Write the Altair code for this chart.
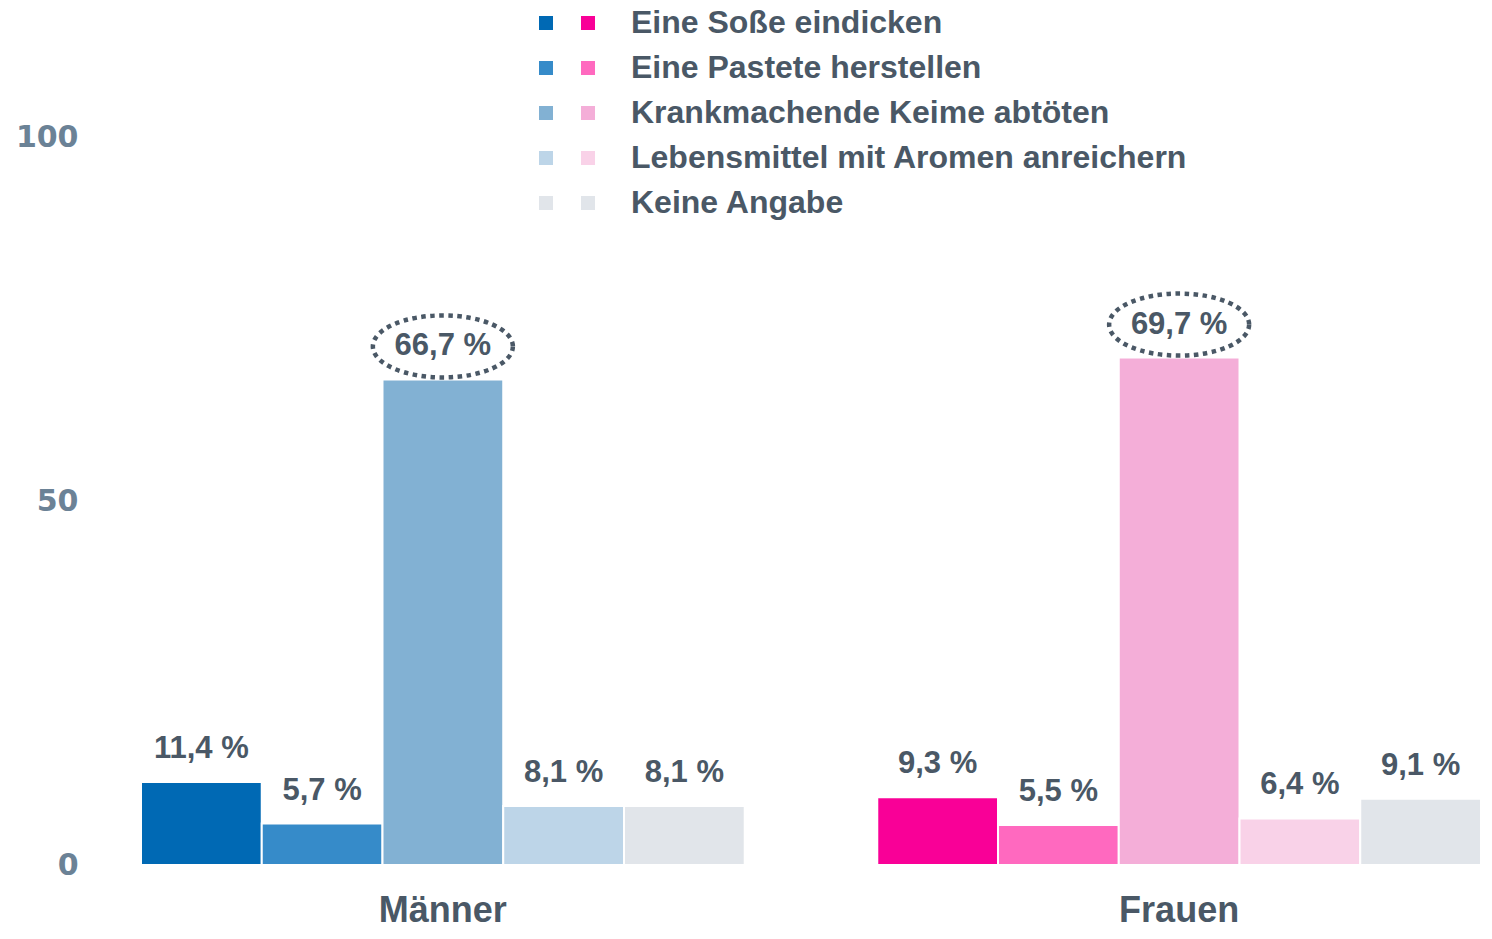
import altair as alt
import pandas as pd

groups = ["Männer", "Frauen"]
categories = [
    "Eine Soße eindicken",
    "Eine Pastete herstellen",
    "Krankmachende Keime abtöten",
    "Lebensmittel mit Aromen anreichern",
    "Keine Angabe",
]
maenner_values = [11.4, 5.7, 66.7, 8.1, 8.1]
frauen_values = [9.3, 5.5, 69.7, 6.4, 9.1]
maenner_colors = ["#0069b4", "#368bc9", "#82b1d3", "#bdd5e8", "#e1e5ea"]
frauen_colors = ["#f90097", "#ff69bf", "#f4aed8", "#f9d2e8", "#e1e5ea"]
y_ticks = [0, 50, 100]

rows = []
for g, vals in zip(groups, [maenner_values, frauen_values]):
    mx = max(vals)
    for c, v in zip(categories, vals):
        rows.append({
            "group": g,
            "category": c,
            "value": v,
            "label": f"{v:.1f}".replace(".", ",") + " %",
            "is_max": v == mx,
        })
df = pd.DataFrame(rows)

DARK = "#4a5866"
FONT = "Liberation Sans"

x_enc = alt.X(
    "group:N",
    sort=groups,
    scale=alt.Scale(paddingInner=0.18, paddingOuter=0),
    axis=alt.Axis(
        title=None, domain=False, ticks=False, labelAngle=0,
        labelFont=FONT, labelFontSize=36, labelFontWeight="bold",
        labelColor=DARK, labelPadding=28,
    ),
)
xo_enc = alt.XOffset("category:N", sort=categories,
                     scale=alt.Scale(paddingInner=0, paddingOuter=0))
y_enc = alt.Y(
    "value:Q",
    scale=alt.Scale(domain=[0, 100], nice=False),
    axis=alt.Axis(
        title=None, domain=False, ticks=False, grid=False, values=y_ticks,
        labelFont="DejaVu Sans", labelFontSize=30, labelFontWeight="bold",
        labelColor="#6b8296", labelPadding=63,
    ),
)

base = alt.Chart(df)

legend_m = alt.Legend(
    orient="none", legendX=389, legendY=-130, title=None,
    symbolType="square", symbolSize=196, symbolStrokeWidth=0,
    symbolOpacity=1, labelExpr="''", labelFontSize=32,
    labelOffset=0, rowPadding=13, padding=0,
)
legend_f = alt.Legend(
    orient="none", legendX=431, legendY=-130, title=None,
    symbolType="square", symbolSize=196, symbolStrokeWidth=0,
    symbolOpacity=1, labelFont=FONT,
    labelFontSize=32, labelFontWeight="bold", labelColor=DARK,
    labelOffset=27, labelLimit=0, rowPadding=13, padding=0,
)

bars_m = base.transform_filter(alt.datum.group == "Männer").mark_bar(
    stroke="white", strokeWidth=2
).encode(
    x=x_enc, xOffset=xo_enc, y=y_enc,
    color=alt.Color("category:N", sort=categories,
                    scale=alt.Scale(domain=categories, range=maenner_colors),
                    legend=legend_m),
)

bars_f = base.transform_filter(alt.datum.group == "Frauen").mark_bar(
    stroke="white", strokeWidth=2
).encode(
    x=x_enc, xOffset=xo_enc, y=y_enc,
    color=alt.Color("category:N", sort=categories,
                    scale=alt.Scale(domain=categories, range=frauen_colors),
                    legend=legend_f),
)

labels = base.mark_text(
    dy=-33, baseline="middle", align="center", font=FONT,
    fontSize=31, fontWeight="bold", color=DARK,
).encode(x=x_enc, xOffset=xo_enc, y=y_enc, text="label:N")

ellipse_path = (
    "M 1 0 C 1 0.245 0.552 0.443 0 0.443 C -0.552 0.443 -1 0.245 -1 0 "
    "C -1 -0.245 -0.552 -0.443 0 -0.443 C 0.552 -0.443 1 -0.245 1 0 Z"
)
ellipses = base.transform_filter(alt.datum.is_max).mark_point(
    shape=ellipse_path, size=19600, filled=False, stroke=DARK,
    strokeWidth=4.5, strokeDash=[4.5, 4.5], yOffset=-33, opacity=1,
).encode(x=x_enc, xOffset=xo_enc, y=y_enc)

chart = alt.layer(bars_m, bars_f, labels, ellipses).resolve_scale(
    color="independent"
).properties(
    width=1340, height=728,
    autosize=alt.AutoSizeParams(type="none"),
    padding={"left": 133, "top": 129, "right": 0, "bottom": 60},
).configure_view(stroke=None)

chart.save("out.html", embed_options={"renderer": "svg", "actions": False})
